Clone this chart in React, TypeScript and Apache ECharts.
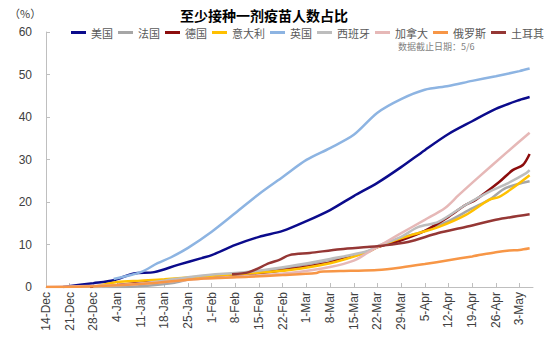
import { useEffect, useRef } from 'react';
import * as echarts from 'echarts';

// x = days since 14-Dec; y = % of population with at least one dose
const tickLabels = ['14-Dec', '21-Dec', '28-Dec', '4-Jan', '11-Jan', '18-Jan', '25-Jan', '1-Feb', '8-Feb', '15-Feb', '22-Feb', '1-Mar', '8-Mar', '15-Mar', '22-Mar', '29-Mar', '5-Apr', '12-Apr', '19-Apr', '26-Apr', '3-May'];
const yTicks = [0, 10, 20, 30, 40, 50, 60];

const usData: [number, number][] = [[5, 0], [14, 0.9], [20, 1.6], [26, 3.2], [32, 3.5], [39, 5.2], [46, 6.8], [49, 7.5], [56, 9.9], [63, 11.8], [70, 13.2], [77, 15.5], [84, 18.1], [91, 21.4], [98, 24.5], [105, 28.2], [112, 32.2], [119, 36], [126, 39], [133, 41.9], [140, 44], [143, 44.7]];
const franceData: [number, number][] = [[14, 0], [21, 0], [30, 0.3], [38, 1.0], [45, 2.3], [60, 3.3], [72, 4.7], [84, 6.4], [95, 8.2], [98, 9.4], [105, 11.5], [112, 13.2], [119, 15.5], [126, 18.5], [131, 20.5], [136, 23.3], [143, 24.9]];
const germanyData: [number, number][] = [[13, 0], [21, 0.5], [35, 1.5], [45, 2.2], [60, 3.0], [72, 4.2], [84, 5.8], [95, 8.3], [98, 9.4], [105, 11], [112, 13.2], [119, 16.5], [124, 19.3], [127, 20.5], [134, 24.7], [138, 27.5], [141, 28.7], [143, 31.3]];
const italyData: [number, number][] = [[14, 0], [21, 1.2], [28, 1.5], [35, 1.8], [45, 2.4], [60, 3.2], [72, 4], [84, 5.6], [95, 8.2], [98, 9.4], [101, 10.4], [108, 12.2], [116, 14.1], [124, 16.9], [131, 20.5], [134, 21.2], [138, 23.3], [143, 26.3]];
const ukData: [number, number][] = [[20, 1.9], [28, 3.5], [33, 5.6], [37, 7], [42, 9.2], [49, 13], [56, 17.4], [63, 21.9], [70, 25.9], [77, 29.9], [84, 32.7], [91, 35.8], [98, 41], [105, 44.2], [112, 46.4], [119, 47.3], [126, 48.5], [133, 49.6], [140, 50.8], [143, 51.4]];
const spainData: [number, number][] = [[14, 0], [21, 0.3], [28, 0.8], [35, 1.5], [45, 2.6], [60, 3.6], [72, 4.9], [84, 6.6], [95, 8.4], [98, 9.6], [105, 11.8], [110, 14.1], [116, 15.3], [124, 19.3], [131, 22.4], [136, 24.2], [142, 26.8], [143, 27.5]];
const canadaData: [number, number][] = [[0, 0], [21, 0.5], [35, 1.2], [45, 1.9], [60, 2.6], [72, 3.3], [84, 4.7], [91, 6.2], [95, 8], [98, 9.4], [104, 12.2], [112, 15.8], [118, 18.6], [122, 21.6], [128, 25.9], [136, 31.5], [143, 36.3]];
const russiaData: [number, number][] = [[0, 0], [15, 0.2], [30, 0.8], [45, 1.9], [60, 2.4], [70, 2.8], [80, 3.3], [81, 3.6], [90, 3.8], [98, 4], [105, 4.6], [112, 5.4], [119, 6.3], [126, 7.2], [133, 8.2], [137, 8.6], [140, 8.7], [143, 9.1]];
const turkeyData: [number, number][] = [[55, 3.0], [60, 3.5], [66, 5.6], [69, 6.4], [72, 7.5], [78, 8.0], [87, 8.9], [95, 9.4], [98, 9.6], [107, 10.6], [116, 12.7], [124, 14.1], [133, 15.8], [143, 17.1]];

const seriesNames = ['美国', '法国', '德国', '意大利', '英国', '西班牙', '加拿大', '俄罗斯', '土耳其'];
const seriesData = [usData, franceData, germanyData, italyData, ukData, spainData, canadaData, russiaData, turkeyData];
const seriesColors = ['#0B0B8C', '#A6A6A6', '#8C0D0D', '#FFC000', '#8DB4E2', '#BDBDBD', '#E6B8B7', '#F79646', '#953735'];

const numFont = "'Liberation Sans', Arial, sans-serif";
const cjkFont = "'Noto Sans CJK SC', sans-serif";

export default function App() {
  const ref = useRef<HTMLDivElement>(null);
  useEffect(() => {
    if (!ref.current) return;
    const chart = echarts.init(ref.current, null, { renderer: 'svg' });
    const tickDays = tickLabels.map((_, i) => i * 7);
    chart.setOption({
      animation: false,
      backgroundColor: '#ffffff',
      title: {
        text: '至少接种一剂疫苗人数占比',
        left: 175,
        top: 3,
        textStyle: { fontSize: 14, fontWeight: 'bold', color: '#000', fontFamily: cjkFont },
      },
      legend: {
        data: seriesNames,
        left: 66,
        top: 22,
        icon: 'rect',
        itemWidth: 15,
        itemHeight: 3,
        itemGap: 5,
        textStyle: { fontSize: 11, color: '#595959', fontFamily: cjkFont },
      },
      graphic: [
        { type: 'text', left: 9, top: 7, style: { text: '（%）', fontSize: 11, fill: '#404040', fontFamily: cjkFont } },
        { type: 'text', left: 398, top: 42, style: { text: '数据截止日期：5/6', fontSize: 9, fill: '#7F7F7F', fontFamily: cjkFont } },
      ],
      grid: { left: 46, right: 17, top: 32, bottom: 51 },
      xAxis: {
        type: 'value',
        min: 0,
        max: 144,
        interval: 7,
        splitLine: { show: false },
        axisLine: { lineStyle: { color: '#BFBFBF', width: 1 } },
        axisTick: { show: true, inside: true, length: 4, lineStyle: { color: '#BFBFBF' }, customValues: tickDays },
        axisLabel: {
          rotate: 90,
          margin: 5,
          fontSize: 12,
          color: '#404040',
          fontFamily: numFont,
          customValues: tickDays,
          formatter: (v: number) => tickLabels[Math.round(v / 7)] ?? '',
        },
      },
      yAxis: {
        type: 'value',
        min: yTicks[0],
        max: yTicks[yTicks.length - 1],
        interval: 10,
        splitLine: { show: false },
        axisLine: { show: true, lineStyle: { color: '#BFBFBF', width: 1 } },
        axisTick: { show: true, inside: true, length: 4, lineStyle: { color: '#BFBFBF' } },
        axisLabel: { fontSize: 12, color: '#404040', fontFamily: numFont, margin: 14 },
      },
      series: seriesNames.map((name, i) => ({
        name,
        type: 'line',
        data: seriesData[i],
        showSymbol: false,
        symbol: 'none',
        smooth: 0.3,
        lineStyle: { width: 2.5, color: seriesColors[i] },
        itemStyle: { color: seriesColors[i] },
      })),
    });
    return () => chart.dispose();
  }, []);
  return <div ref={ref} style={{ position: 'fixed', left: 0, top: 0, width: 550, height: 338 }} />;
}
